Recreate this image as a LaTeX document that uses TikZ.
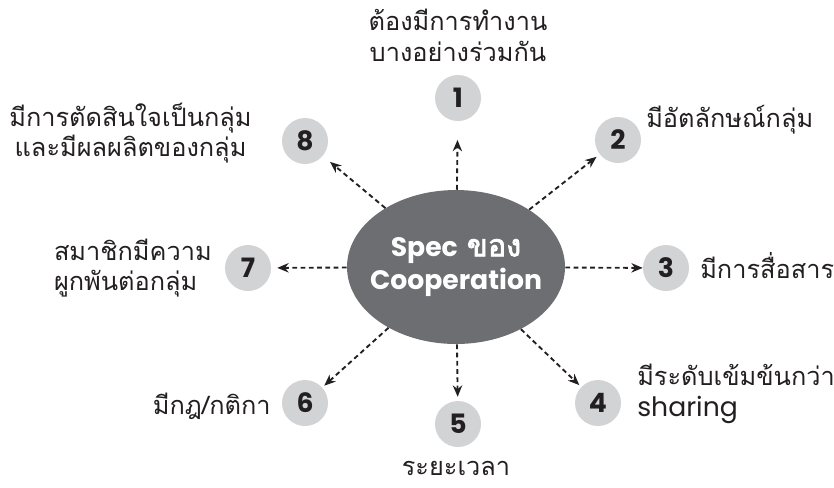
\documentclass[tikz,border=0pt]{standalone}
\usepackage{fontspec}
\setmainfont[Script=Thai]{Loma}
\newfontfamily\latinfont{Poppins}
\newfontfamily\thaiboldfont[Script=Thai,FakeBold=2.5]{Loma}
\usetikzlibrary{shapes.geometric, arrows.meta}
\definecolor{specgray}{HTML}{6D6E71}
\definecolor{numgray}{HTML}{D1D3D4}
\definecolor{inkgray}{HTML}{231F20}
\tikzstyle{arrow} = [line width=1.4pt,dash pattern=on 3.6pt off 2.6pt,-{Stealth[length=8.5pt,width=7pt]},draw=inkgray]
\tikzstyle{num} = [circle, fill=numgray, minimum size=34.5pt, inner sep=0pt, text=inkgray, font=\latinfont\bfseries\fontsize{20}{20}\selectfont]
\tikzstyle{lbl} = [inner sep=0pt, text=inkgray, font=\fontsize{19}{23}\selectfont]
\begin{document}
\begin{tikzpicture}[x=0.75pt,y=-0.75pt]
    \useasboundingbox (0,0) rectangle (834,487);

    % centre
    \node at (456,267) [ellipse, fill=specgray, minimum width=163.5pt, minimum height=115.5pt, inner sep=-22pt, align=center, text=white, font=\fontsize{20}{25}\selectfont] (spec) {{\latinfont\bfseries Spec} {\thaiboldfont\fontsize{23}{25}\selectfont ของ}\\{\latinfont\bfseries Cooperation}};

    % numbers
    \node at (458,98) [num] (n1) {1};
    \node at (618,140) [num] (n2) {2};
    \node at (666,268) [num] (n3) {3};
    \node at (598,403) [num] (n4) {4};
    \node at (458,424) [num] (n5) {5};
    \node at (305,403) [num] (n6) {6};
    \node at (248,268) [num] (n7) {7};
    \node at (305,141) [num] (n8) {8};

    % texts
    \node at (458,35) [lbl, align=center] (l1) {ต้องมีการทำงาน\\บางอย่างร่วมกัน};
    \node at (646,120) [lbl, anchor=west] (l2) {มีอัตลักษณ์กลุ่ม};
    \node at (700,266) [lbl, anchor=west] (l3) {มีการสื่อสาร};
    \node at (637,394) [lbl, anchor=west, align=left] (l4) {มีระดับเข้มข้นกว่า\\{\latinfont\fontsize{20}{23}\selectfont sharing}};
    \node at (456,468) [lbl] (l5) {ระยะเวลา};
    \node at (271,406) [lbl, anchor=east] (l6) {มีกฎ/กติกา};
    \node at (212,268) [lbl, anchor=east, align=left] (l7) {สมาชิกมีความ\\ผูกพันต่อกลุ่ม};
    \node at (252,133) [lbl, anchor=east, align=center] (l8) {มีการตัดสินใจเป็นกลุ่ม\\และมีผลผลิตของกลุ่ม};

    \draw [arrow, shorten >=14pt] (spec) -- (n1);
    \draw [arrow, shorten >=3pt] (spec) -- (n2);
    \draw [arrow, shorten >=0pt] (spec) -- (n3);
    \draw [arrow, shorten >=2pt] (spec) -- (n4);
    \draw [arrow, shorten >=3pt] (spec) -- (n5);
    \draw [arrow, shorten >=2pt] (spec) -- (n6);
    \draw [arrow, shorten >=4.5pt] (spec) -- (n7);
    \draw [arrow, shorten >=7pt] (spec) -- (n8);
\end{tikzpicture}
\end{document}
